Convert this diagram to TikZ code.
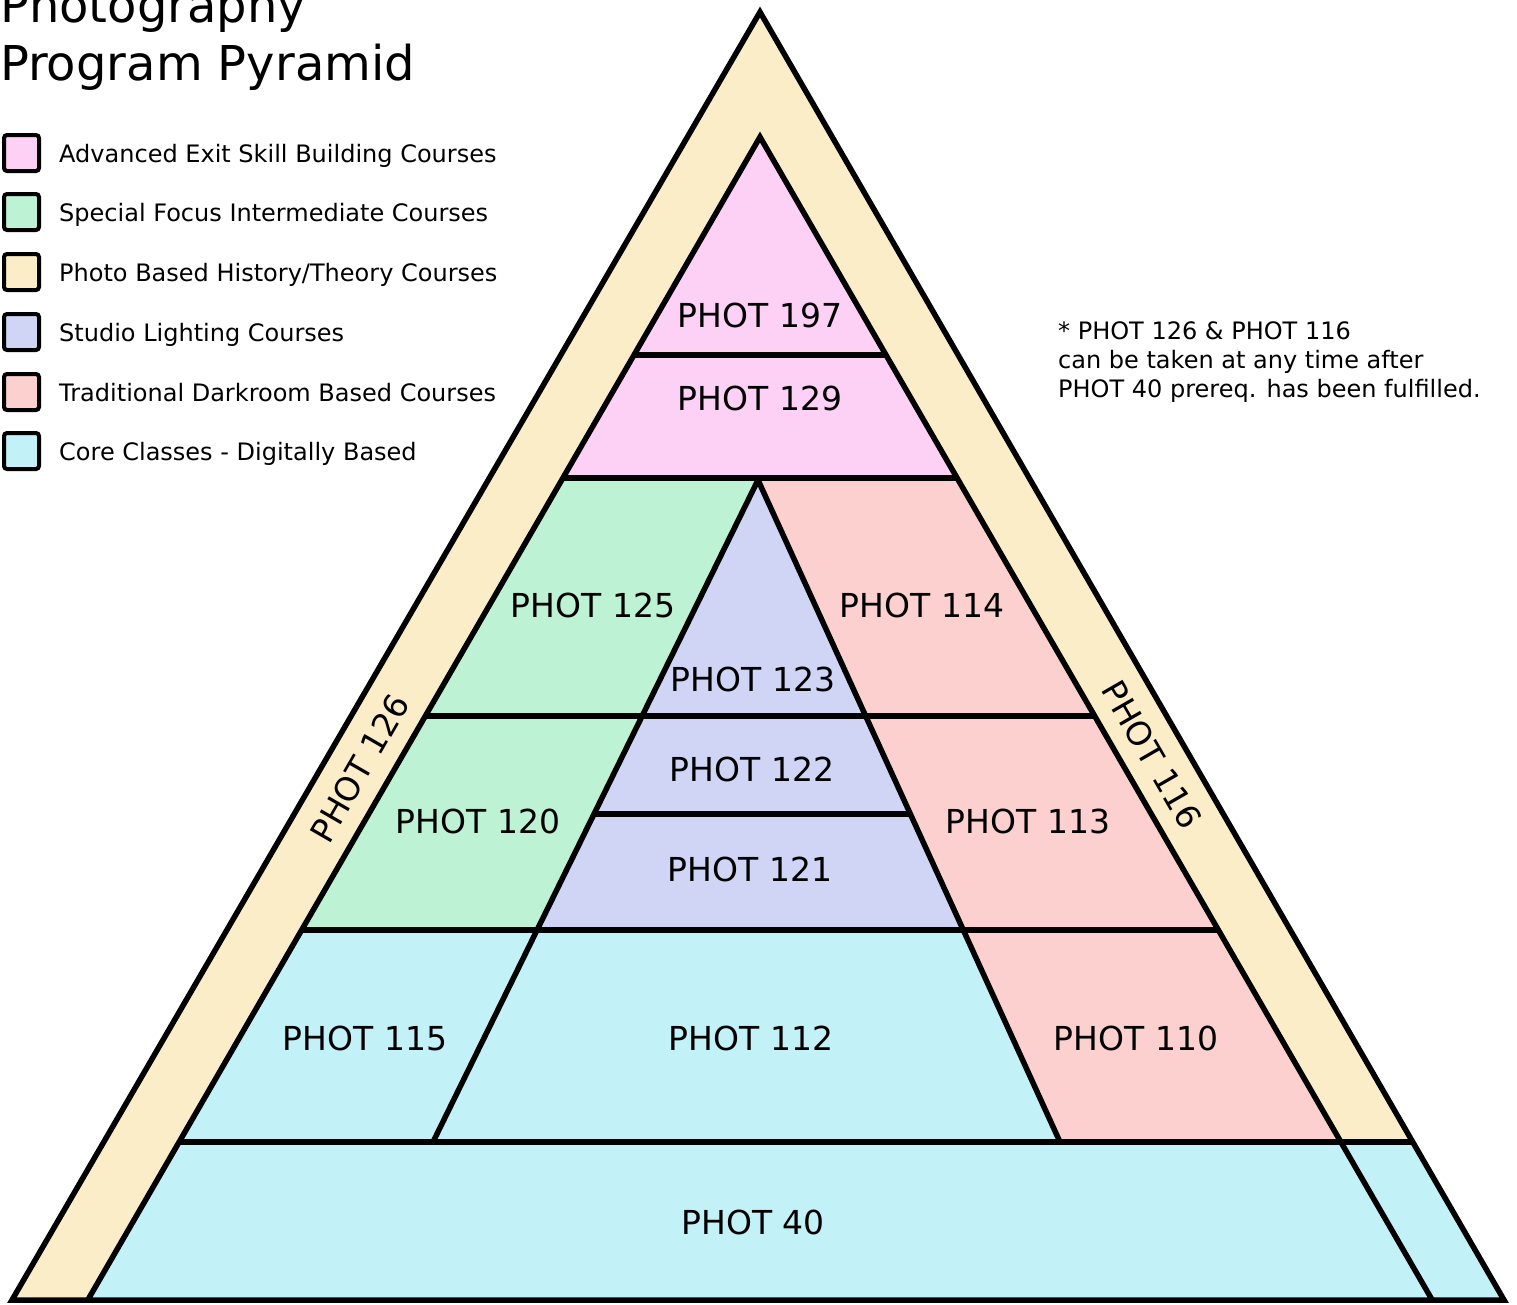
\documentclass[tikz,border=0pt]{standalone}
\usepackage{fontspec}
\setmainfont{DejaVu Sans}
\definecolor{cpink}{HTML}{FDD0F5}
\definecolor{cgreen}{HTML}{BDF2D5}
\definecolor{cyel}{HTML}{FBEDC8}
\definecolor{clav}{HTML}{D0D4F5}
\definecolor{csalm}{HTML}{FDD0D0}
\definecolor{ccyan}{HTML}{C2F2F8}
\tikzset{
  edge/.style={line width=5.5pt, line join=miter},
  lbl/.style={font=\fontsize{33}{36}\selectfont, inner sep=0pt},
  legbox/.style={draw, line width=4pt, rounded corners=3pt},
  legtxt/.style={font=\fontsize{24}{28}\selectfont, anchor=base west, inner sep=0pt},
  notetxt/.style={font=\fontsize{24}{28}\selectfont, anchor=base west, inner sep=0pt},
}
\begin{document}
\begin{tikzpicture}[x=1pt,y=-1pt]
\useasboundingbox (0,0) rectangle (1517,1304);
% outer band
\fill[cyel] (760,12) -- (12,1300) -- (1504,1300) -- cycle;
% regions
\fill[cpink] (760,137) -- (563,478) -- (957,478) -- cycle;
\fill[cgreen] (563,478) -- (758,478) -- (537,930) -- (301.6,930) -- cycle;
\fill[clav] (758,480) -- (537,930) -- (963.2,930) -- cycle;
\fill[csalm] (758,478) -- (957,478) -- (1340.9,1142) -- (1060,1142) -- cycle;
\fill[ccyan] (301.6,930) -- (963.2,930) -- (1060,1142) -- (179.1,1142) -- cycle;
\fill[ccyan] (179.1,1142) -- (1413,1142) -- (1504,1300) -- (87.8,1300) -- cycle;
% lines
\draw[edge] (760,12) -- (12,1300) -- (1504,1300) -- cycle;
\draw[edge] (87.8,1300) -- (760,137) -- (1432.2,1300);
\draw[edge] (634,355) -- (886,355);
\draw[edge] (563,478) -- (957,478);
\draw[edge] (425.3,716) -- (1094.7,716);
\draw[edge] (594,814) -- (910.3,814);
\draw[edge] (301.6,930) -- (1218.4,930);
\draw[edge] (179.1,1142) -- (1413,1142);
\draw[edge] (758,480) -- (433,1142);
\draw[edge] (758,480) -- (1060,1142);
% labels
\node[lbl] (p197) at (760,315) {PHOT 197};
\node[lbl] (p129) at (760,398) {PHOT 129};
\node[lbl] (p125) at (593,605) {PHOT 125};
\node[lbl] (p114) at (922,605) {PHOT 114};
\node[lbl] (p123) at (753,679) {PHOT 123};
\node[lbl] (p122) at (752,769) {PHOT 122};
\node[lbl] (p121) at (750,869) {PHOT 121};
\node[lbl] (p120) at (478,821) {PHOT 120};
\node[lbl] (p113) at (1028,821) {PHOT 113};
\node[lbl] (p115) at (365,1038) {PHOT 115};
\node[lbl] (p112) at (751,1038) {PHOT 112};
\node[lbl] (p110) at (1136,1038) {PHOT 110};
\node[lbl] (p40) at (753,1222) {PHOT 40};
\node[lbl, rotate=60] (p126) at (360,768) {PHOT 126};
\node[lbl, rotate=-60] (p116) at (1152,755) {PHOT 116};
% title
\node[font=\fontsize{48}{52}\selectfont, anchor=base west, inner sep=0pt] (t1) at (0,22) {Photography};
\node[font=\fontsize{48}{52}\selectfont, anchor=base west, inner sep=0pt] (t2) at (0,80) {Program Pyramid};
% legend
\foreach \yc/\col/\txt [count=\i] in {153/cpink/Advanced Exit Skill Building Courses,
  212/cgreen/Special Focus Intermediate Courses,
  272/cyel/Photo Based History\slash Theory Courses,
  332/clav/Studio Lighting Courses,
  392/csalm/Traditional Darkroom Based Courses,
  451/ccyan/Core Classes - Digitally Based}{
  \draw[legbox, fill=\col] (4,\yc-18) rectangle (39,\yc+18);
  \node[legtxt] (leg\i) at (59,\yc+9) {\txt};
}
% note
\node[notetxt] (n1) at (1058,339) {* PHOT 126 \& PHOT 116};
\node[notetxt] (n2) at (1058,368) {can be taken at any time after};
\node[notetxt] (n3) at (1058,397) {PHOT 40 prereq. has been fulfilled.};
\end{tikzpicture}
\end{document}
